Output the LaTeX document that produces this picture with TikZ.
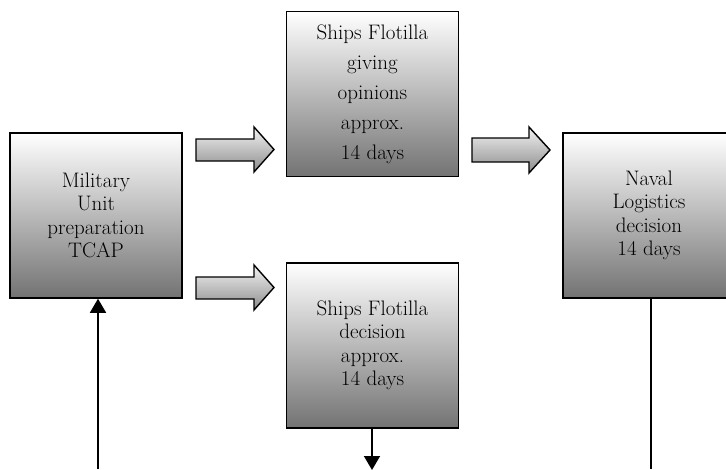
\documentclass[tikz,border=0pt]{standalone}
\usepackage{fontspec}
\setmainfont{Latin Modern Roman}
\usetikzlibrary{arrows.meta}
\begin{document}
\begin{tikzpicture}[x=1pt,y=-1pt,
  box/.style={draw=black, line width=1.5pt, top color=white, bottom color=black!55,
    minimum width=172pt, minimum height=165pt, inner sep=0pt, align=center,
    text=black, font=\fontsize{21}{23.5}\selectfont},
  widebox/.style={box, font=\fontsize{21}{30}\selectfont},
  blk/.style={draw=black, line width=1.4pt, line join=miter, top color=black!5, bottom color=black!45},
  conn/.style={line width=1.6pt, -{Triangle[width=16pt,length=14pt]}}
]
\useasboundingbox (0,0) rectangle (726,469);
\clip (0,0) rectangle (726,469);

\node[box] (mil) at (96,215.5) {Military\\Unit\\preparation\\TCAP};
\node[widebox] (opin) at (372.5,94) {Ships Flotilla\\giving\\opinions\\approx.\\14 days};
\node[box] (dec) at (372.5,345.5) {Ships Flotilla\\decision\\approx.\\14 days};
\node[box] (naval) at (649,215.5) {Naval\\Logistics\\decision\\14 days};

% block arrows
\draw[blk] (196,139) -- (254,139) -- (254,127) -- (274,149.5) -- (254,172) -- (254,161) -- (196,161) -- cycle;
\draw[blk] (196,277) -- (254,277) -- (254,265) -- (274,287.5) -- (254,310) -- (254,299) -- (196,299) -- cycle;
\draw[blk] (472,138) -- (529,138) -- (529,127) -- (550,150) -- (529,173) -- (529,162) -- (472,162) -- cycle;

% connectors
\coordinate (inL) at (98,469);
\coordinate (outD) at (372,470);
\coordinate (outN) at (651,469);
\draw[conn] (inL) -- (inL |- mil.south);
\draw[conn] (outD |- dec.south) -- (outD);
\draw[line width=1.3pt] (outN |- naval.south) -- (outN);
\end{tikzpicture}
\end{document}
